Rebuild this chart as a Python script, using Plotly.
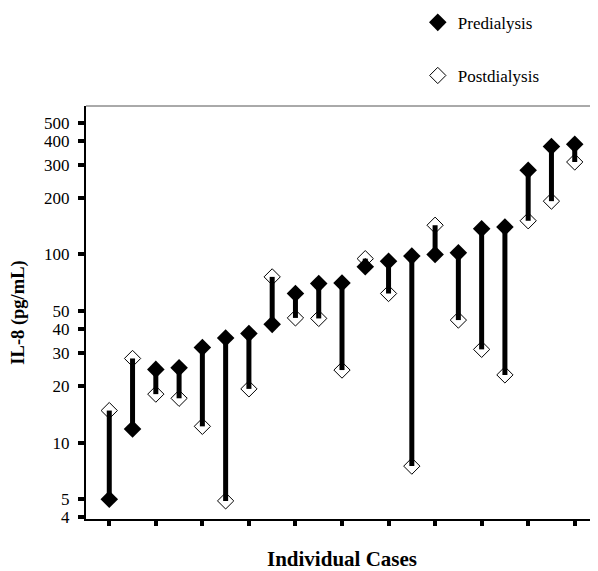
import plotly.graph_objects as go

cases = list(range(1, 22))
predialysis = [5, 11.8, 24.5, 25, 32, 36, 38, 42.5, 62, 70, 70.5, 86, 92, 98, 100, 102, 137, 140, 280, 375, 385]
postdialysis = [14.8, 28, 18.1, 17.2, 12.2, 4.9, 19.3, 76, 46, 45.7, 24.3, 95, 62, 7.5, 143, 44.8, 31.3, 22.9, 151, 192, 310]
y_ticks = [4, 5, 10, 20, 30, 40, 50, 100, 200, 300, 400, 500]
x_ticks = [1, 3, 5, 7, 9, 11, 13, 15, 17, 19, 21]

SERIF = "Liberation Serif, Times New Roman, serif"

lx, ly = [], []
for c, a, b in zip(cases, predialysis, postdialysis):
    lx += [c, c, None]
    ly += [a, b, None]

fig = go.Figure()
fig.add_trace(go.Scatter(x=lx, y=ly, mode="lines", line=dict(color="black", width=5),
                         showlegend=False, hoverinfo="skip"))
fig.add_trace(go.Scatter(x=cases, y=postdialysis, mode="markers", name="Postdialysis",
                         legendgroup="b", legendrank=2,
                         marker=dict(symbol="diamond-open", size=12.5, color="black",
                                     line=dict(width=1, color="black"))))
fig.add_trace(go.Scatter(x=cases, y=predialysis, mode="markers", name="Predialysis",
                         legendgroup="a", legendrank=1,
                         marker=dict(symbol="diamond", size=13.5, color="black")))

fig.add_shape(type="line", xref="paper", yref="paper", x0=0, x1=1, y0=1, y1=1,
              line=dict(color="#555555", width=1))

# the page body adds an 8px offset, so the figure is drawn 8px smaller
fig.update_layout(
    width=590, height=563,
    margin=dict(l=78, r=0, t=98, b=52, autoexpand=False),
    paper_bgcolor="white", plot_bgcolor="white",
    font=dict(family=SERIF, color="black", size=16),
    legend=dict(x=0.648, y=1.245, xanchor="left", yanchor="top",
                font=dict(family=SERIF, size=17), tracegroupgap=28,
                bgcolor="rgba(0,0,0,0)"),
    xaxis=dict(range=[0, 22], tickvals=x_ticks, ticktext=[""] * len(x_ticks),
               ticks="outside", ticklen=5, tickwidth=4, tickcolor="black",
               showline=True, linecolor="black", linewidth=2,
               showgrid=False, zeroline=False,
               title=dict(text="<b>Individual Cases</b>", font=dict(family=SERIF, size=21),
                          standoff=29)),
    yaxis=dict(type="log", range=[0.594, 2.789], tickvals=y_ticks,
               ticktext=[str(v) for v in y_ticks],
               tickfont=dict(family=SERIF, size=17),
               ticks="outside", ticklen=6, tickwidth=4, tickcolor="black",
               ticklabelstandoff=5,
               showline=True, linecolor="black", linewidth=2,
               showgrid=False, zeroline=False,
               title=dict(text="<b>IL-8 (pg/mL)</b>", font=dict(family=SERIF, size=18.5),
                          standoff=22)),
)

fig.write_html("out.html")
